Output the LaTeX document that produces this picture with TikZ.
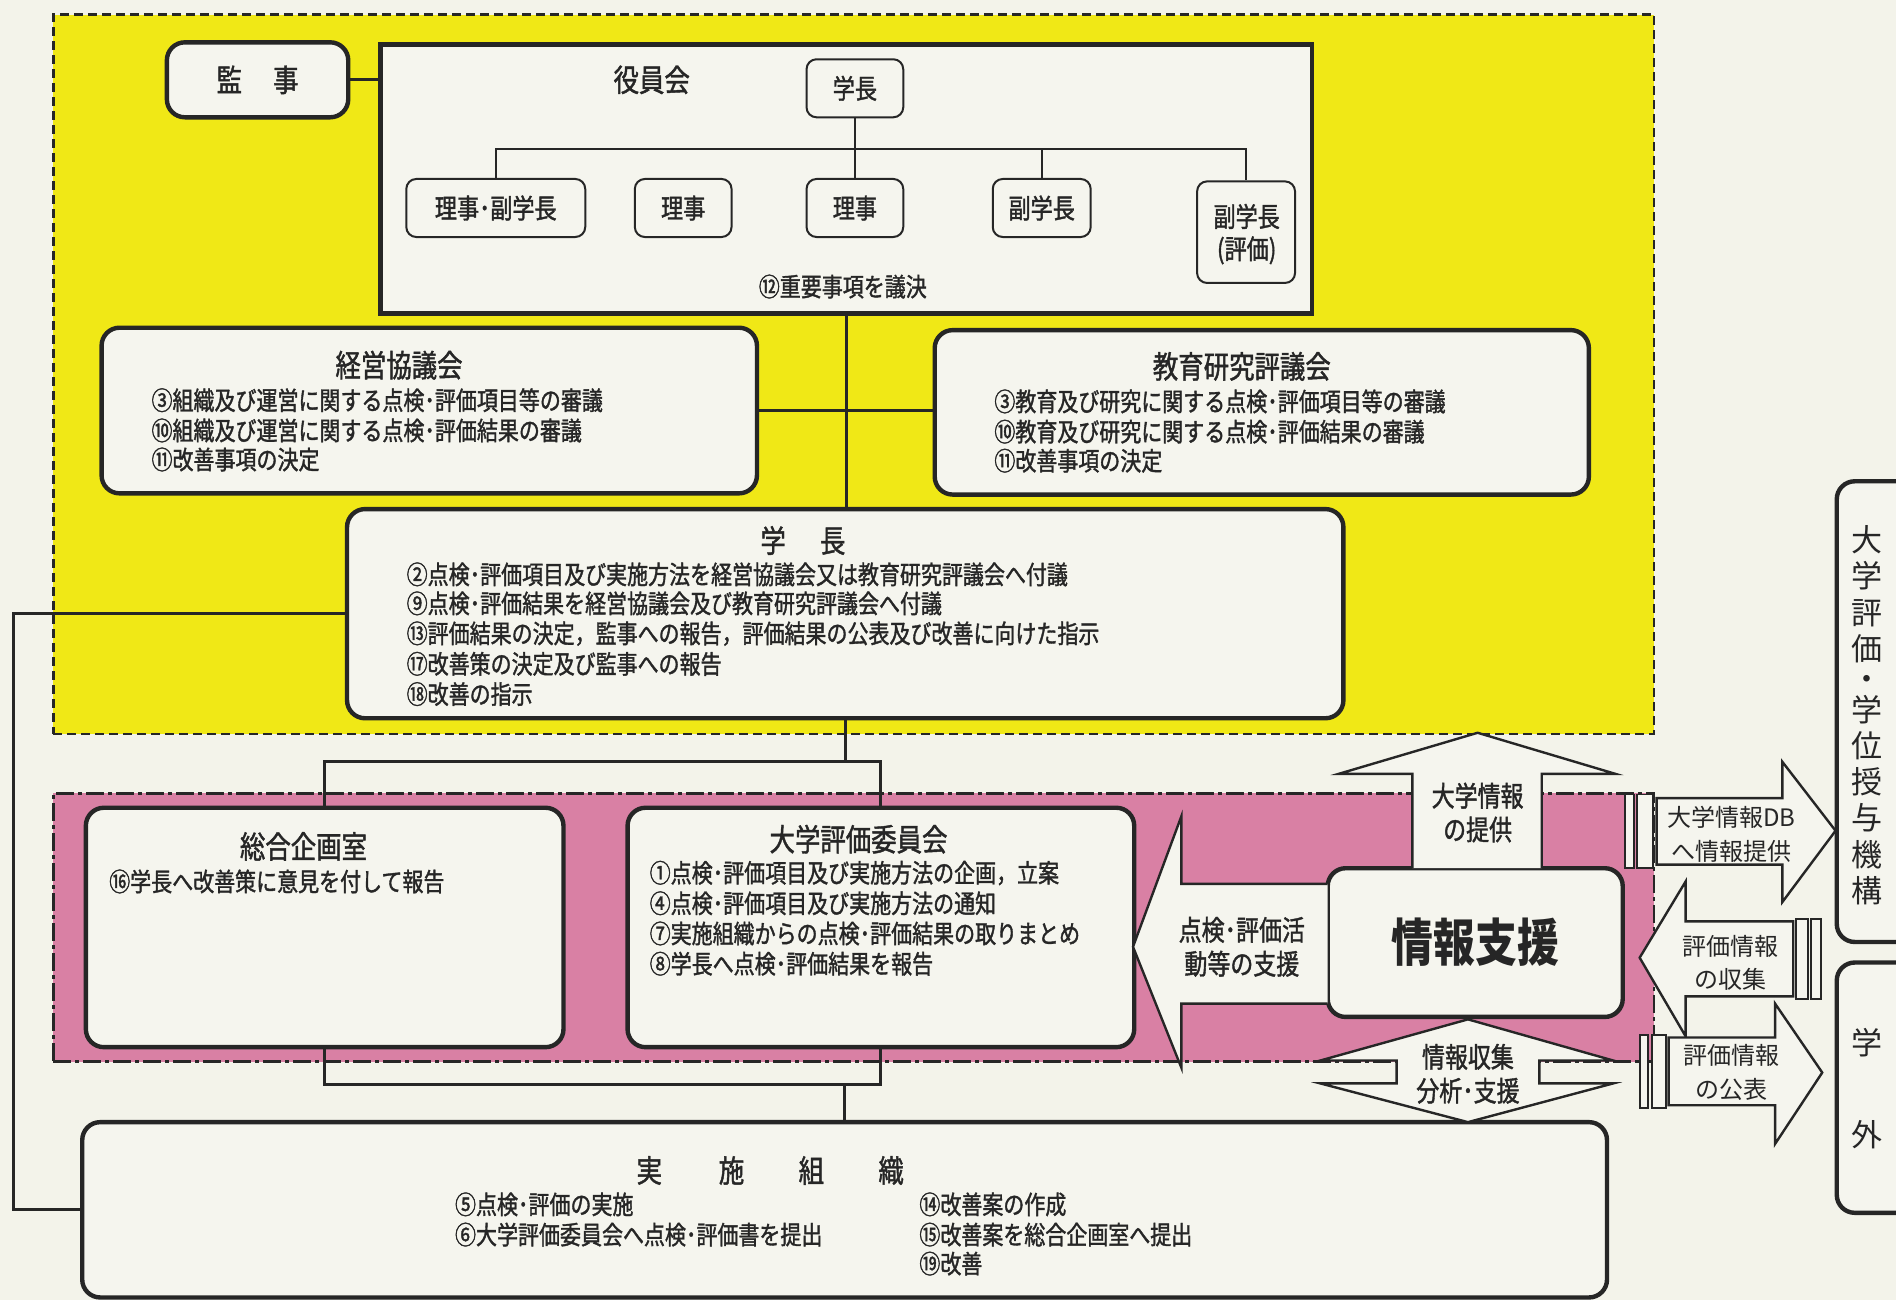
\documentclass[tikz,border=0pt]{standalone}
\usepackage{fontspec}
\newfontfamily\jp[FakeStretch=0.82,FakeBold=1.4]{Noto Sans CJK JP}
\newfontfamily\jpb[FakeStretch=0.82]{Noto Sans CJK JP}
\newfontfamily\jpw{Noto Sans CJK JP}
\usetikzlibrary{fit}
\definecolor{paper}{RGB}{243,243,234}
\definecolor{boxfill}{RGB}{245,245,238}
\definecolor{yel}{RGB}{240,232,22}
\definecolor{pnk}{RGB}{217,128,164}
\definecolor{ink}{RGB}{38,38,38}
\tikzset{
  zoneY/.style={fill=yel,draw=ink,line width=1.3pt,dash pattern=on 4.5pt off 2.5pt,inner sep=0pt},
  zoneP/.style={fill=pnk,draw=ink,line width=1.3pt,dash pattern=on 9pt off 2pt on 2pt off 2pt,inner sep=0pt},
  bigbox/.style={draw=ink,line width=2.2pt,fill=boxfill,rounded corners=9pt,inner sep=0pt},
  sqbox/.style={draw=ink,line width=2.4pt,fill=boxfill,inner sep=0pt},
  smallbox/.style={draw=ink,line width=1pt,fill=boxfill,rounded corners=5pt,inner sep=0pt},
  link/.style={draw=ink,line width=1.5pt},
  thinlink/.style={draw=ink,line width=0.9pt},
  blockarrow/.style={draw=ink,line width=1.2pt,fill=boxfill,line join=miter},
  barbox/.style={draw=ink,line width=0.9pt,fill=boxfill},
  body/.style={font=\jp\fontsize{12.8}{14}\selectfont,anchor=west,inner sep=0pt,text=ink},
  bodyc/.style={font=\jp\fontsize{12.8}{14}\selectfont,inner sep=0pt,text=ink},
  ttl/.style={font=\jp\fontsize{15.5}{17}\selectfont,inner sep=0pt,text=ink},
  lab/.style={font=\jp\fontsize{13.5}{15}\selectfont,inner sep=0pt,text=ink},
  albl/.style={font=\jp\fontsize{14}{16}\selectfont,inner sep=0pt,text=ink},
  wlbl/.style={font=\jpw\fontsize{12}{14}\selectfont,inner sep=0pt,text=ink},
  vert/.style={font=\jpw\fontsize{15.5}{18.14}\selectfont,inner sep=0pt,text=ink,align=center},
  bigttl/.style={font=\jpb\bfseries\fontsize{25.5}{28}\selectfont,inner sep=0pt,text=ink},
}
\begin{document}
\begin{tikzpicture}[x=0.6046pt,y=-0.6046pt]
\useasboundingbox (0,0) rectangle (1568,1075.1);
\fill[paper] (0,0) rectangle (1568,1075.1);

% zones
\node[zoneY,fit={(44,12) (1368,607)}] (zoneA) {};
\node[zoneP,fit={(44,656) (1368,878)}] (zoneB) {};

% boxes
\node[bigbox,fit={(138,35) (288,97)}] (kanji) {};
\node[sqbox,fit={(315,37) (1085,259)}] (yakuin) {};
\node[smallbox,fit={(667,49) (747,97)}] (gcS) {};
\node[smallbox,fit={(336,148) (484,196)}] (rf) {};
\node[smallbox,fit={(525,148) (605,196)}] (r1) {};
\node[smallbox,fit={(667,148) (747,196)}] (r2) {};
\node[smallbox,fit={(821,148) (902,196)}] (fg) {};
\node[smallbox,fit={(990,150) (1071,234)}] (fge) {};
\node[bigbox,fit={(84,271) (626,408)}] (keiei) {};
\node[bigbox,fit={(773,273) (1314,409)}] (kyoiku) {};
\node[bigbox,fit={(287,421) (1111,594)}] (gakucho) {};
\node[bigbox,fit={(71,668) (466,866)}] (sogo) {};
\node[bigbox,fit={(519,668) (938,866)}] (hyoka) {};
\node[bigbox,fit={(68,928) (1329,1073)}] (jisshi) {};
\node[bigbox,fit={(1519,398) (1610,779)}] (kikou) {};
\node[bigbox,fit={(1519,796) (1610,1003)}] (gakugai) {};

% connectors
\coordinate (barY) at (0,123);
\coordinate (fbx) at (11,0);
\coordinate (splitA) at (0,630);
\coordinate (splitB) at (0,897);
\draw[link] (kanji.east) -- (kanji.east -| yakuin.west);
\draw[thinlink] (rf.north) -- (rf.north |- barY) -- (fge.north |- barY) -- (fge.north);
\draw[thinlink] (fg.north) -- (fg.north |- barY);
\draw[thinlink] (gcS.south) -- (r2.north);
\draw[link] (yakuin.south) -- (yakuin.south |- gakucho.north);
\draw[link] (keiei.east) -- (keiei.east -| kyoiku.west);
\draw[link] (gakucho.west) -- (gakucho.west -| fbx) |- (jisshi.west);
\draw[link] (gakucho.south) -- (gakucho.south |- splitA);
\draw[link] (sogo.north) -- (sogo.north |- splitA) -- (hyoka.north |- splitA) -- (hyoka.north);
\draw[link] (sogo.south) -- (sogo.south |- splitB) -- (hyoka.south |- splitB) -- (hyoka.south);
\draw[link] (jisshi.north) -- (jisshi.north |- splitB);

% info support box
\node[bigbox,fit={(1098,718) (1342,841)}] (joho) {};

% block arrows
\draw[blockarrow] (1168,718) -- (1168,640) -- (1107,640) -- (1222,606) -- (1336,640) -- (1275,640) -- (1275,718);
\draw[blockarrow] (1098,731) -- (977,731) -- (977,675) -- (937,783) -- (977,883) -- (977,830) -- (1098,830);
\draw[blockarrow] (1214,843) -- (1334,877) -- (1273,877) -- (1273,896) -- (1334,896) -- (1214,928) -- (1092,896) -- (1155,896) -- (1155,877) -- (1092,877) -- cycle;
\draw[blockarrow] (1370,660) -- (1474,660) -- (1474,630) -- (1518,687) -- (1474,746) -- (1474,715) -- (1370,715) -- cycle;
\draw[barbox] (1344,657) rectangle (1351,718);
\draw[barbox] (1354,657) rectangle (1367,718);
\draw[blockarrow] (1483,762) -- (1394,762) -- (1394,729) -- (1356,792) -- (1394,857) -- (1394,824) -- (1483,824) -- cycle;
\draw[barbox] (1485,760) rectangle (1495,826);
\draw[barbox] (1498,760) rectangle (1506,826);
\draw[blockarrow] (1380,858) -- (1468,858) -- (1468,830) -- (1507,887) -- (1468,946) -- (1468,914) -- (1380,914) -- cycle;
\draw[barbox] (1356,856) rectangle (1363,916);
\draw[barbox] (1366,856) rectangle (1378,916);

% texts: top
\node[ttl] (tkanji) at (kanji) {監\hspace{1em}事};
\node[ttl] (tyakuin) at (539,66) {役員会};
\node[lab] (tgcS) at (gcS) {学長};
\node[lab] (trf) at (rf) {理事･副学長};
\node[lab] (tr1) at (r1) {理事};
\node[lab] (tr2) at (r2) {理事};
\node[lab] (tfg) at (fg) {副学長};
\node[lab] (tfge1) at (1031,179) {副学長};
\node[lab] (tfge2) at (1031,207) {(評価)};
\node[bodyc] (tjuyo) at (697,237) {⑫重要事項を議決};

\node[ttl] (tkeiei) at (330,302) {経営協議会};
\node[body] (k1) at (125,331) {③組織及び運営に関する点検･評価項目等の審議};
\node[body] (k2) at (125,356) {⑩組織及び運営に関する点検･評価結果の審議};
\node[body] (k3) at (125,380) {⑪改善事項の決定};

\node[ttl] (tkyoiku) at (1027,303) {教育研究評議会};
\node[body] (e1) at (822,332) {③教育及び研究に関する点検･評価項目等の審議};
\node[body] (e2) at (822,357) {⑩教育及び研究に関する点検･評価結果の審議};
\node[body] (e3) at (822,381) {⑪改善事項の決定};

\node[ttl] (tgakucho) at (664,447) {学\hspace{1.1em}長};
\node[body] (g1) at (336,475) {②点検･評価項目及び実施方法を経営協議会又は教育研究評議会へ付議};
\node[body] (g2) at (336,499) {⑨点検･評価結果を経営協議会及び教育研究評議会へ付議};
\node[body] (g3) at (336,524) {⑬評価結果の決定，監事への報告，評価結果の公表及び改善に向けた指示};
\node[body] (g4) at (336,549) {⑰改善策の決定及び監事への報告};
\node[body] (g5) at (336,574) {⑱改善の指示};

\node[ttl] (tsogo) at (251,700) {総合企画室};
\node[body] (s1) at (90,729) {⑯学長へ改善策に意見を付して報告};

\node[ttl] (thyoka) at (710,694) {大学評価委員会};
\node[body] (h1) at (537,722) {①点検･評価項目及び実施方法の企画，立案};
\node[body] (h2) at (537,747) {④点検･評価項目及び実施方法の通知};
\node[body] (h3) at (537,772) {⑦実施組織からの点検･評価結果の取りまとめ};
\node[body] (h4) at (537,797) {⑧学長へ点検･評価結果を報告};

\node[ttl] (j0a) at (537,968) {実};
\node[ttl] (j0b) at (605,968) {施};
\node[ttl] (j0c) at (671,968) {組};
\node[ttl] (j0d) at (737,968) {織};
\node[body] (j1) at (376,996) {⑤点検･評価の実施};
\node[body] (j2) at (376,1021) {⑥大学評価委員会へ点検･評価書を提出};
\node[body] (j3) at (760,996) {⑭改善案の作成};
\node[body] (j4) at (760,1021) {⑮改善案を総合企画室へ提出};
\node[body] (j5) at (760,1045) {⑲改善};

% arrow labels
\node[bigttl] (tjoho) at (joho) {情報支援};
\node[albl] (a1) at (1222,658) {大学情報};
\node[albl] (a2) at (1222,686) {の提供};
\node[albl] (a3) at (1027,769) {点検･評価活};
\node[albl] (a4) at (1027,797) {動等の支援};
\node[albl] (a5) at (1214,874) {情報収集};
\node[albl] (a6) at (1214,902) {分析･支援};
\node[wlbl] (a7) at (1432,676) {大学情報DB};
\node[wlbl] (a8) at (1432,704) {へ情報提供};
\node[wlbl] (a9) at (1431,783) {評価情報};
\node[wlbl] (a10) at (1431,810) {の収集};
\node[wlbl] (a11) at (1432,873) {評価情報};
\node[wlbl] (a12) at (1432,901) {の公表};

% vertical texts
\node[vert] (tkikou) at (1544,591.5) {大\\学\\評\\価\\[-3pt]・\\[-3pt]学\\位\\授\\与\\機\\構};
\node[vert] (tgakugai) at (1544,900) {学\\[27.8pt]外};
\end{tikzpicture}
\end{document}
